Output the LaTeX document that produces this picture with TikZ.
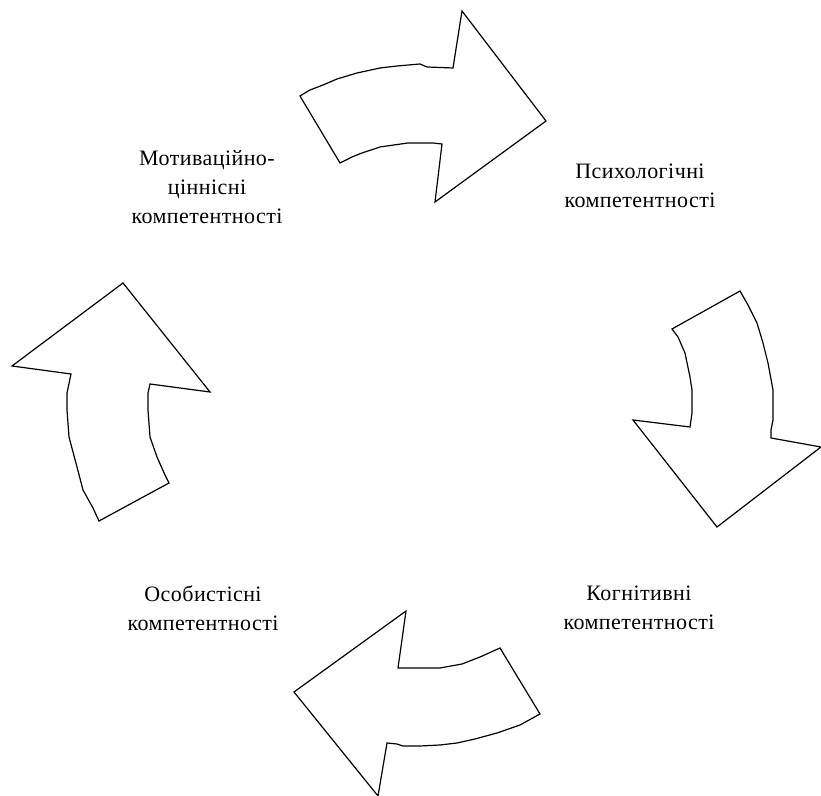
\documentclass[tikz,border=0pt]{standalone}
\usepackage{fontspec}
\setmainfont{Liberation Serif}[LetterSpace=2.0]
\usepackage{tikz}
\usetikzlibrary{positioning}

\begin{document}
\begin{tikzpicture}[
			x=0.5pt, y=-0.5pt,
			arw/.style = {draw, line width=0.6pt, line join=miter},
			comp/.style = {align=center, inner sep=0pt, font=\fontsize{11}{14.5}\selectfont},
			]
			\useasboundingbox (0,0) rectangle (821,796);
			\node[comp] (M) at (207,187) {Мотиваційно-\\ціннісні\\компетентності};
			\node[comp] (P) at (640,186) {Психологічні\\компетентності};
			\node[comp] (K) at (639,608) {Когнітивні\\компетентності};
			\node[comp] (O) at (203,608) {Особистісні\\компетентності};
			% arrows
			\draw[arw] (300,96) -- (310,90) -- (323,85) -- (337,79) -- (357,73) -- (380,68)
				-- (397,66) -- (420,64) -- (427,67) -- (453,68) -- (462,11) -- (546,121)
				-- (435,202) -- (442,144) -- (433,143) -- (408,143) -- (380,147)
				-- (362,153) -- (352,157) -- (340,163) -- cycle;
			\draw[arw] (740,291) -- (748,305) -- (757,323) -- (763,343) -- (768,363)
				-- (773,390) -- (773,420) -- (771,430) -- (771,438) -- (821,447)
				-- (717,527) -- (633,420) -- (690,427) -- (692,413) -- (692,390)
				-- (690,377) -- (685,353) -- (678,337) -- (672,329) -- cycle;
			\draw[arw] (406,611) -- (398,668) -- (420,668) -- (440,668) -- (462,664)
				-- (480,657) -- (500,648) -- (540,714) -- (520,725) -- (497,733)
				-- (475,739) -- (457,743) -- (440,745) -- (420,746) -- (403,746)
				-- (397,744) -- (387,743) -- (378,796) -- (294,692) -- cycle;
			\draw[arw] (123,283) -- (210,392) -- (150,384) -- (148,393) -- (148,410)
				-- (150,437) -- (157,457) -- (165,475) -- (169,483) -- (99,521)
				-- (93,508) -- (83,490) -- (77,467) -- (69,437) -- (67,410)
				-- (67,393) -- (71,374) -- (12,366) -- cycle;
		\end{tikzpicture}
\end{document}
